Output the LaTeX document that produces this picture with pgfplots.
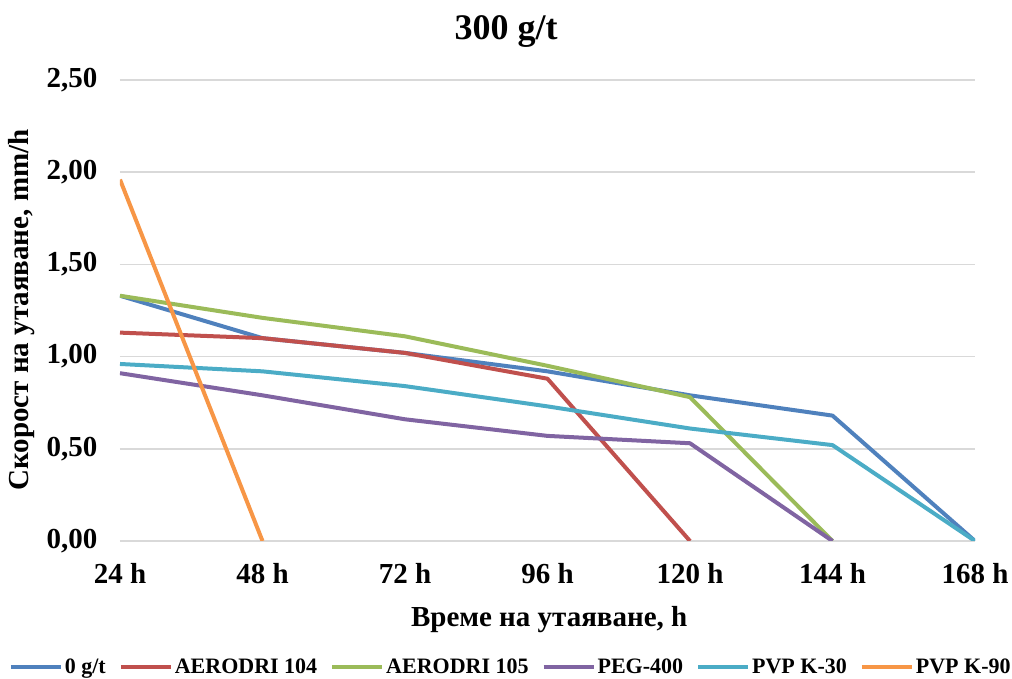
\documentclass[border=0pt]{standalone}
\usepackage{pgfplots}
\pgfplotsset{compat=1.18}
\usepackage{fontspec}
\setmainfont{Liberation Serif}
\definecolor{cBlue}{HTML}{4F81BD}
\definecolor{cRed}{HTML}{C0504D}
\definecolor{cGreen}{HTML}{9BBB59}
\definecolor{cPurple}{HTML}{8064A2}
\definecolor{cAqua}{HTML}{4BACC6}
\definecolor{cOrange}{HTML}{F79646}
\definecolor{cGrid}{HTML}{D9D9D9}
\begin{document}
\begin{tikzpicture}
\useasboundingbox (-120pt,-138pt) rectangle (892pt,541pt);
\begin{axis}[
  at={(0,0)}, anchor=south west,
  scale only axis, width=855pt, height=461pt,
  xmin=0, xmax=6, ymin=0, ymax=2.5,
  xtick={0,1,2,3,4,5,6},
  xticklabels={24 h,48 h,72 h,96 h,120 h,144 h,168 h},
  ytick={0,0.5,1,1.5,2,2.5},
  ymajorgrids, grid style={draw=cGrid, line width=1.5pt},
  axis line style={draw=none}, tick style={draw=none},
  /pgf/number format/assume math mode=true,
  ticklabel style={font=\bfseries\fontsize{29}{34}\selectfont},
  xticklabel style={yshift=-19pt},
  yticklabel style={xshift=-19pt, /pgf/number format/.cd, fixed, fixed zerofill, precision=2, use comma, 1000 sep={}},
  title={300 g/t},
  title style={at={(0.4515,1)}, anchor=center, yshift=42pt, font=\bfseries\fontsize{36}{42}\selectfont},
  xlabel={Време на утаяване, h},
  xlabel style={at={(0.502,0)}, anchor=center, yshift=-79pt, font=\bfseries\fontsize{29}{34}\selectfont},
  ylabel={Скорост на утаяване, mm/h},
  ylabel style={at={([xshift=-98pt]axis description cs:0,0.501)}, anchor=center, font=\bfseries\fontsize{29}{34}\selectfont},
  legend style={at={([yshift=-126pt]axis description cs:0.457,0)}, anchor=center, draw=none,
    font=\bfseries\fontsize{22}{26}\selectfont, /tikz/every even column/.append style={column sep=11pt}},
  legend columns=6,
  legend image code/.code={\draw[#1, line width=4pt] (0pt,0pt) -- (50pt,0pt);},
  every axis plot/.append style={line width=4pt, line join=round, no markers},
]
\addplot[cBlue] coordinates {(0,1.33) (1,1.10) (2,1.02) (3,0.92) (4,0.79) (5,0.68) (6,0)};
\addlegendentry{0 g/t}
\addplot[cRed] coordinates {(0,1.13) (1,1.10) (2,1.02) (3,0.88) (4,0)};
\addlegendentry{AERODRI 104}
\addplot[cGreen] coordinates {(0,1.33) (1,1.21) (2,1.11) (3,0.95) (4,0.78) (5,0)};
\addlegendentry{AERODRI 105}
\addplot[cPurple] coordinates {(0,0.91) (1,0.79) (2,0.66) (3,0.57) (4,0.53) (5,0)};
\addlegendentry{PEG-400}
\addplot[cAqua] coordinates {(0,0.96) (1,0.92) (2,0.84) (3,0.73) (4,0.61) (5,0.52) (6,0)};
\addlegendentry{PVP K-30}
\addplot[cOrange] coordinates {(0,1.96) (1,0)};
\addlegendentry{PVP K-90}
\end{axis}
\end{tikzpicture}
\end{document}
